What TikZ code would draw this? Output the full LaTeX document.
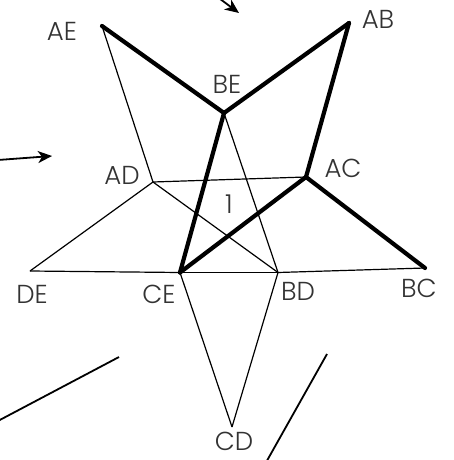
\documentclass[tikz,border=0pt]{standalone}
\usepackage{fontspec}
\setmainfont{Poppins}[UprightFont=* Light]
\usepackage{tikz}
\usetikzlibrary{arrows.meta}

\begin{document}
\begin{tikzpicture}
[labelDecorate/.style={inner sep=0pt,font=\fontsize{26}{26}\selectfont,text=black!80},%
    thinLineDecorate/.style={black,line width=1.2pt},%
    thickLineDecorate/.style={black,line width=4.2pt,line cap=round,line join=round},%
    strayLineDecorate/.style={black,line width=1.8pt,>={Stealth[length=14pt,width=12pt,inset=4pt]}},%
    x=1pt,y=-1pt]
    \useasboundingbox (0,0) rectangle (453,460);
    \clip (0,0) rectangle (453,460);
    %% vertices
    \foreach \nodename/\x/\y in {AE/102/26, AB/349/23, BE/224/113, AD/153/182, AC/306/177, DE/30/271, CE/180/272.5, BD/278/272.5, BC/425/268, CD/232/427}
    {
        \coordinate (\nodename) at (\x,\y);
    }
    %% labels
    \foreach \nodename/\x/\y in {AE/62/31, AB/378/19, BE/227/84, AD/122/175, AC/343/168, DE/32/294, CE/159/294, BD/298/291, BC/419/288, CD/234/441}
    {
        \node (label\nodename) at (\x,\y) [labelDecorate] {\nodename};
    }
    \node (faceOne) at (229,204) [labelDecorate] {1};
    %% thin edges
    \foreach \startnode/\endnode in {AE/AD, AD/AC, AD/DE, AD/BD, BE/BD, DE/CE, CE/BD, BD/BC, CE/CD, CD/BD}
    {
        \draw[thinLineDecorate] (\startnode) -- (\endnode);
    }
    %% thick edges
    \foreach \startnode/\endnode in {AE/BE, BE/AB, AB/AC, AC/BC, BE/CE, CE/AC}
    {
        \draw[thickLineDecorate] (\startnode) -- (\endnode);
    }
    %% stray strokes
    \coordinate (leftStart) at (-2,160);
    \coordinate (leftEnd) at (52,156);
    \coordinate (topStart) at (208,-10);
    \coordinate (topEnd) at (239,13);
    \coordinate (lowLeftStart) at (-4,422);
    \coordinate (lowLeftEnd) at (119,357);
    \coordinate (lowRightStart) at (327,354);
    \coordinate (lowRightEnd) at (264,466);
    \draw[strayLineDecorate,->] (leftStart) -- (leftEnd);
    \draw[strayLineDecorate,->] (topStart) -- (topEnd);
    \draw[strayLineDecorate] (lowLeftStart) -- (lowLeftEnd);
    \draw[strayLineDecorate] (lowRightStart) -- (lowRightEnd);
\end{tikzpicture}
\end{document}
